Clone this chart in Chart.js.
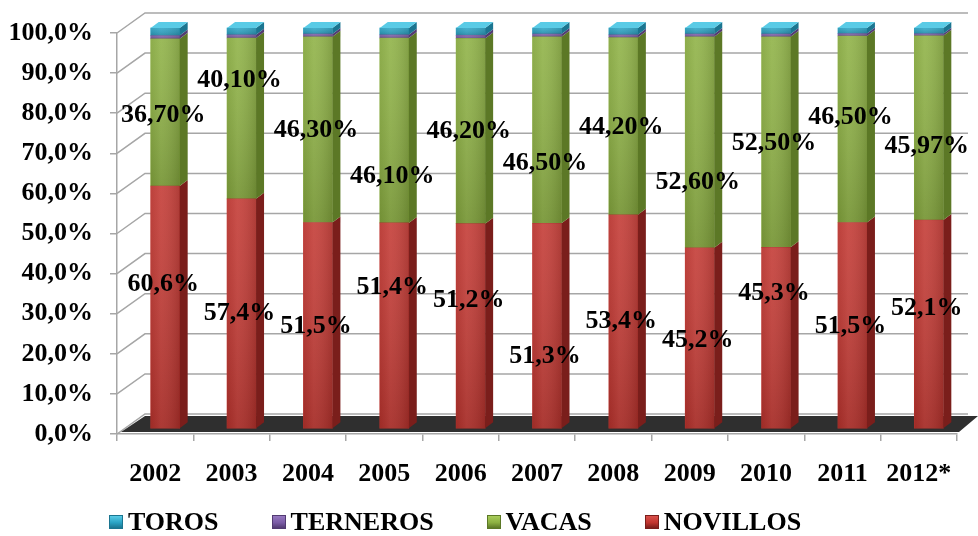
<!DOCTYPE html>
<html>
<head>
<meta charset="utf-8">
<script src="https://cdn.jsdelivr.net/npm/chart.js@4.4.1/dist/chart.umd.min.js"></script>
<style>
  html, body { margin: 0; padding: 0; background: #fff; }
  #wrap { position: relative; width: 978px; height: 536px; }
  #legend {
    position: absolute; left: 109px; top: 507px; height: 30px;
    display: flex; align-items: center;
    font: bold 26px "Liberation Serif", "Times New Roman", serif; color: #000;
  }
  .leg-item { display: flex; align-items: center; margin-right: 53px; line-height: 30px; }
  .leg-box { width: 14px; height: 14px; margin-right: 5px; box-sizing: border-box; }
</style>
</head>
<body>
<div id="wrap">
  <canvas id="chart" width="978" height="536"></canvas>
  <div id="legend"></div>
</div>
<script>
const years = ['2002', '2003', '2004', '2005', '2006', '2007', '2008', '2009', '2010', '2011', '2012*'];
const novillos = [60.6, 57.4, 51.5, 51.4, 51.2, 51.3, 53.4, 45.2, 45.3, 51.5, 52.1];
const vacas = [36.7, 40.1, 46.3, 46.1, 46.2, 46.5, 44.2, 52.6, 52.5, 46.5, 45.97];
const terneros = [0.8, 0.8, 0.7, 0.8, 0.8, 0.7, 0.7, 0.7, 0.7, 0.6, 0.5];
const toros = [1.9, 1.7, 1.5, 1.7, 1.8, 1.5, 1.7, 1.5, 1.5, 1.4, 1.4];

// vertical nudges (px) of the value labels, the original has them placed by hand
const novillosLabelShift = [-23, 0, 1, -38, -26, 31, 0, 2, -45, 1, -16];
const vacasLabelShift = [3, -38, 1, 46, 0, 33, 1, 40, 1, -12, 18];

const FONT = '"Liberation Serif", "Times New Roman", serif';
const GRID = '#A6A6A6';

// series colours: front, side, top
const series = [
  { label: 'NOVILLOS', data: novillos, front: '#C2352F', side: '#7A1E1B', top: '#D9504B' },
  { label: 'VACAS', data: vacas, front: '#8CB041', side: '#5C7826', top: '#A8CC5A' },
  { label: 'TERNEROS', data: terneros, front: '#7B5CA6', side: '#523B72', top: '#9678C0' },
  { label: 'TOROS', data: toros, front: '#2AA3C4', side: '#1B7590', top: '#5ACBE6' }
];

const DX = 10, DY = -5;           // bars sit a bit behind the axis plane
const DEPTH_X = 8, DEPTH_Y = -6;  // side / top faces of the bars
const WALL_X = 28, WALL_Y = -20;  // back wall offset

const fmt = (v, d) => v.toFixed(d).replace('.', ',') + '%';

const threeD = {
  id: 'threeD',
  beforeDatasetsDraw(chart) {
    const { ctx, chartArea: a, scales: { y } } = chart;
    ctx.save();
    // side + back wall gridlines
    ctx.strokeStyle = GRID;
    ctx.lineWidth = 1.5;
    y.ticks.forEach(t => {
      const py = y.getPixelForValue(t.value);
      ctx.beginPath();
      ctx.moveTo(a.left, py);
      ctx.lineTo(a.left + WALL_X, py + WALL_Y);
      ctx.lineTo(a.right + 11, py + WALL_Y);
      ctx.stroke();
    });
    // floor
    ctx.fillStyle = '#2F2F2F';
    ctx.beginPath();
    ctx.moveTo(a.left + 4, a.bottom - 2);
    ctx.lineTo(a.right + 2, a.bottom - 2);
    ctx.lineTo(a.right + 21, a.bottom - 18);
    ctx.lineTo(a.left + WALL_X, a.bottom - 18);
    ctx.closePath();
    ctx.fill();
    ctx.translate(DX, DY);
  },
  afterDatasetsDraw(chart) {
    const { ctx } = chart;
    const last = series.length - 1;
    series.forEach((s, i) => {
      chart.getDatasetMeta(i).data.forEach(bar => {
        const { x, y, base, width } = bar.getProps(['x', 'y', 'base', 'width'], true);
        const l = x - width / 2, r = x + width / 2;
        // shading on the front face
        let g = ctx.createLinearGradient(0, y, 0, base);
        g.addColorStop(0, 'rgba(255,255,255,0.08)');
        g.addColorStop(1, 'rgba(0,0,0,0.14)');
        ctx.fillStyle = g;
        ctx.fillRect(l, y, width, base - y);
        g = ctx.createLinearGradient(l, 0, r, 0);
        g.addColorStop(0, 'rgba(0,0,0,0.05)');
        g.addColorStop(0.35, 'rgba(255,255,255,0.06)');
        g.addColorStop(1, 'rgba(0,0,0,0.12)');
        ctx.fillStyle = g;
        ctx.fillRect(l, y, width, base - y);
        // side face
        ctx.fillStyle = s.side;
        ctx.beginPath();
        ctx.moveTo(r, y);
        ctx.lineTo(r + DEPTH_X, y + DEPTH_Y);
        ctx.lineTo(r + DEPTH_X, base + DEPTH_Y);
        ctx.lineTo(r, base);
        ctx.closePath();
        ctx.fill();
        if (i === last) {
          ctx.fillStyle = s.top;
          ctx.beginPath();
          ctx.moveTo(l, y);
          ctx.lineTo(l + DEPTH_X, y + DEPTH_Y);
          ctx.lineTo(r + DEPTH_X, y + DEPTH_Y);
          ctx.lineTo(r, y);
          ctx.closePath();
          ctx.fill();
        }
      });
    });
    ctx.restore();

    // value labels for NOVILLOS and VACAS
    ctx.save();
    ctx.font = 'bold 26px ' + FONT;
    ctx.fillStyle = '#000';
    ctx.textAlign = 'center';
    ctx.textBaseline = 'middle';
    [[0, novillosLabelShift, 1], [1, vacasLabelShift, 2]].forEach(([di, shift, dec]) => {
      chart.getDatasetMeta(di).data.forEach((bar, j) => {
        const { x, y, base } = bar.getProps(['x', 'y', 'base'], true);
        ctx.fillText(fmt(series[di].data[j], dec), x + DX - 2, (y + base) / 2 + DY + shift[j]);
      });
    });
    ctx.restore();
  }
};

const tickFont = { family: FONT, size: 26, weight: 'bold' };

new Chart(document.getElementById('chart'), {
  type: 'bar',
  data: {
    labels: years,
    datasets: series.map(s => ({
      label: s.label,
      data: s.data,
      backgroundColor: s.front,
      borderWidth: 0,
      barThickness: 29,
      clip: false
    }))
  },
  options: {
    responsive: false,
    animation: false,
    devicePixelRatio: 1,
    layout: { padding: { top: 33, right: 21, bottom: 42, left: 0 } },
    plugins: { legend: { display: false }, tooltip: { enabled: false } },
    scales: {
      x: {
        stacked: true,
        grid: { drawOnChartArea: false, drawTicks: true, tickLength: 7, color: GRID, lineWidth: 1.5 },
        border: { color: GRID, width: 1.5 },
        ticks: { color: '#000', font: tickFont, padding: 18 },
        afterFit: s => { s.height = 60; }
      },
      y: {
        stacked: true,
        min: 0,
        max: 100,
        grid: { drawOnChartArea: false, drawTicks: true, tickLength: 7, color: GRID, lineWidth: 1.5 },
        border: { color: GRID, width: 1.5 },
        ticks: { stepSize: 10, color: '#000', font: tickFont, padding: 17, callback: v => fmt(v, 1) },
        afterFit: s => { s.width = 117; }
      }
    }
  },
  plugins: [threeD]
});

// legend, listed top series first like the original
const legend = document.getElementById('legend');
series.slice().reverse().forEach(s => {
  const item = document.createElement('div');
  item.className = 'leg-item';
  const box = document.createElement('span');
  box.className = 'leg-box';
  box.style.background = `linear-gradient(180deg, ${s.top} 0%, ${s.front} 55%, ${s.side} 100%)`;
  box.style.border = `1px solid ${s.side}`;
  const txt = document.createElement('span');
  txt.textContent = s.label;
  item.appendChild(box);
  item.appendChild(txt);
  legend.appendChild(item);
});
</script>
</body>
</html>
